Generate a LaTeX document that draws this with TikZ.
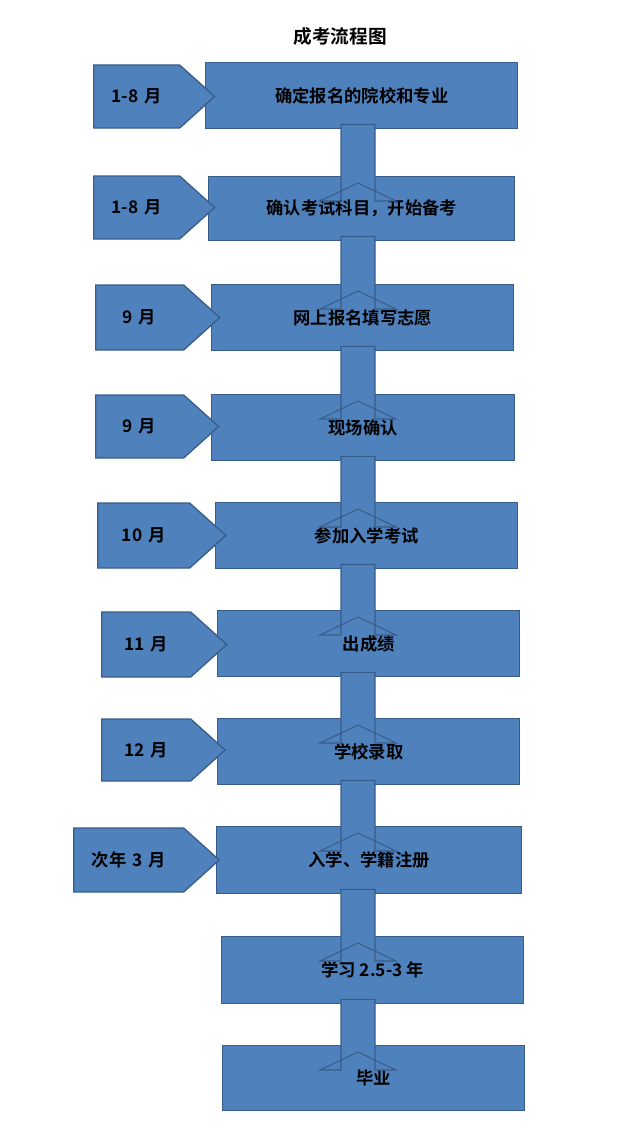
\documentclass[tikz,border=0pt]{standalone}
\usepackage{fontspec}
\newfontfamily\cjk{Noto Sans CJK SC Bold}
\usetikzlibrary{shapes.symbols,calc}
\begin{document}
\begin{tikzpicture}[x=0.75pt,y=-0.75pt,
  blk/.style={fill=blue!45!cyan!60!black!0,draw=none},
  box/.style={draw={rgb,255:red,56;green,93;blue,138},line width=1pt,fill={rgb,255:red,79;green,129;blue,189},font=\cjk\fontsize{13pt}{15pt}\selectfont,inner sep=0pt,anchor=north west},
  sig/.style={box,shape=signal,signal to=east,signal pointer angle=84,anchor=west},
  barrow/.style={draw={rgb,255:red,56;green,93;blue,138},line width=0.8pt,fill={rgb,255:red,79;green,129;blue,189}}]
\useasboundingbox (0,0) rectangle (640,1138);
\node[font=\cjk\fontsize{14pt}{16pt}\selectfont] (title) at (340,36) {成考流程图};
\foreach \i/\bl/\br/\bt/\bb/\t in {
 1/205/517/62/128/确定报名的院校和专业,
 2/208/514/176/240/确认考试科目，开始备考,
 3/211/513/284/350/网上报名填写志愿,
 4/211/514/394/460/现场确认,
 5/215/517/502/568/参加入学考试,
 6/217/519/610/676/出成绩,
 7/217/519/718/784/学校录取,
 8/216/521/826/893/入学、学籍注册,
 9/221/523/936/1003/学习 2.5-3 年,
 10/222/524/1045/1110/毕业}{
 \pgfmathsetmacro\w{(\br-\bl)*0.75}
 \pgfmathsetmacro\h{(\bb-\bt)*0.75}
 \node[box,minimum width=\w pt,minimum height=\h pt] (b\i) at (\bl,\bt) {\t};
}
\foreach \i/\sl/\sr/\st/\sb/\t in {
 1/93/203/65/128/1-8 月,
 2/93/203/176/239/1-8 月,
 3/95/207/285/350/9 月,
 4/95/207/395/458/9 月,
 5/97/213/503/568/10 月,
 6/101/214/612/677/11 月,
 7/101/214/719/781/12 月,
 8/73/207/828/892/次年 3 月}{
 \pgfmathsetmacro\w{(\sr-\sl)*0.75}
 \pgfmathsetmacro\h{(\sb-\st)*0.75}
 \node[sig,minimum width=\w pt,minimum height=\h pt,text width=\w pt-18pt,align=center] (s\i) at (\sl,{(\st+\sb)/2}) {\t};
}
\foreach \a/\b in {1/2,2/3,3/4,4/5,5/6,6/7,7/8,8/9,9/10}{
 \draw[barrow] let \p1=(b\a.south), \p2=(b\b.north) in
  ($(\x1,\y1)!0.5!(\x2,\y1)+(-17,5)$) coordinate (u\a)
  (358-17,\y1+3.75) -- (358+17,\y1+3.75) -- (358+17,\y2-18.75) -- (358+38,\y2-18.75)
  -- (358,\y2-5.25) -- (358-38,\y2-18.75) -- (358-17,\y2-18.75) -- cycle;
}
\end{tikzpicture}
\end{document}
